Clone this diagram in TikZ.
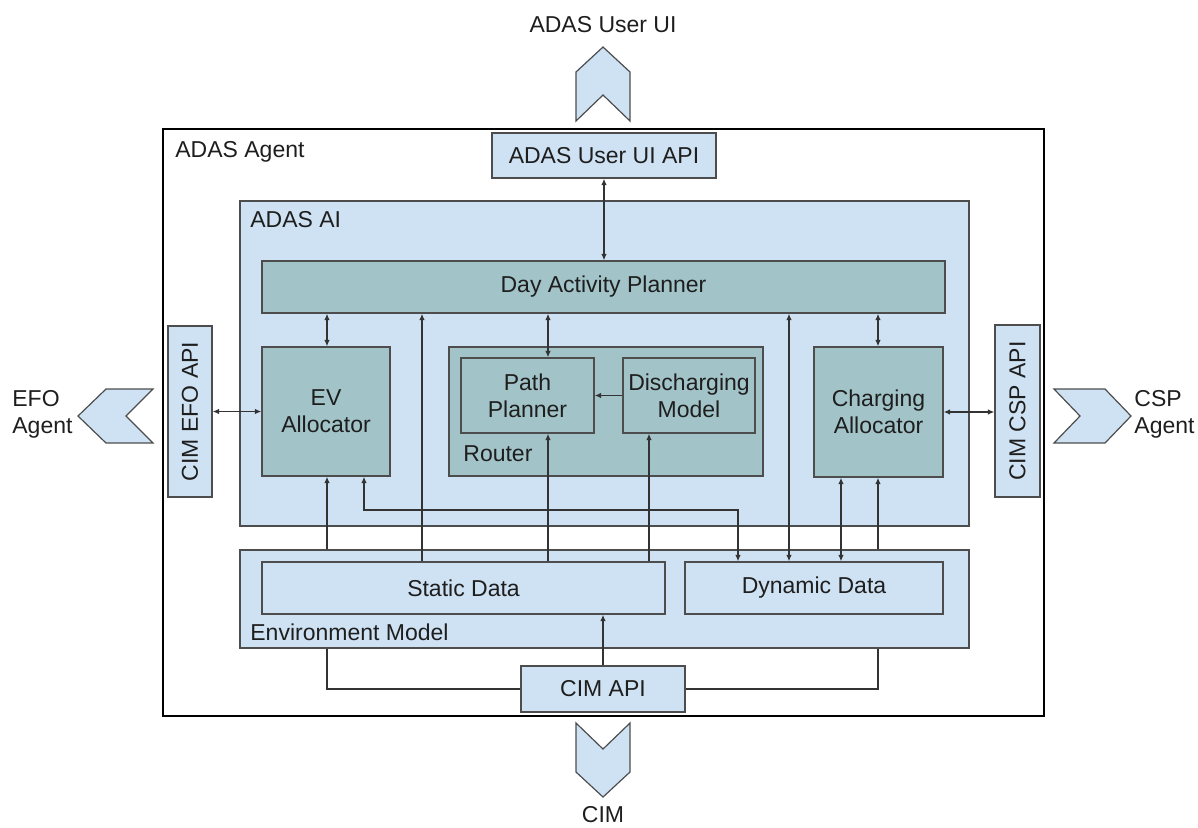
\documentclass[tikz,border=0pt]{standalone}
\usepackage{fontspec}
\setmainfont{Liberation Sans}
\usetikzlibrary{fit,arrows.meta}

\definecolor{paleblue}{HTML}{CFE2F3}
\definecolor{modfill}{HTML}{A2C4C9}
\definecolor{edgegray}{HTML}{4D4D4D}
\definecolor{wire}{HTML}{333333}
\definecolor{ink}{HTML}{1E1E1E}

\tikzset{
  outerframe/.style={draw=black, line width=1.4pt, inner sep=0pt},
  lightbox/.style={draw=edgegray, fill=paleblue, line width=0.7pt, inner sep=0pt, align=center, text=ink},
  darkbox/.style={lightbox, fill=modfill},
  sized/.style 2 args={minimum width=#1, minimum height=#2},
  lbl/.style={text=ink, inner sep=0pt},
  chev/.style={draw=edgegray, fill=paleblue, line width=0.6pt, line join=miter},
  link/.style={draw=wire, line width=0.6pt},
  oneway/.style={link, -{Latex[length=3.2pt,width=2.8pt]}},
  twoway/.style={link, {Latex[length=3.2pt,width=2.8pt]}-{Latex[length=3.2pt,width=2.8pt]}}
}

\begin{document}
\begin{tikzpicture}[x=0.5pt, y=-0.5pt, font=\fontsize{11.5}{13.4}\selectfont]
\useasboundingbox (0,0) rectangle (1198,827);

% ---- agent frame and external interfaces
\node[outerframe, fit={(163,129)(1044,716)}] (agent) {};
\node[lbl, anchor=west] (agentlbl) at (175,152) {ADAS Agent};

\node[lbl] (uiext) at (603,25) {ADAS User UI};
\draw[chev] (603,47) -- (630,72) -- (630,121) -- (603,95) -- (576,121) -- (576,72) -- cycle;

\node[lbl] (cimext) at (603,815) {CIM};
\draw[chev] (576,723) -- (603,749) -- (630,723) -- (630,772) -- (603,797) -- (576,772) -- cycle;

\node[lbl, anchor=west, align=left] (efoext) at (12,414) {EFO\\Agent};
\draw[chev] (78,416) -- (106,389) -- (153,389) -- (126,416) -- (153,443) -- (106,443) -- cycle;

\node[lbl, anchor=west, align=left] (cspext) at (1134,414) {CSP\\Agent};
\draw[chev] (1054,389) -- (1105,389) -- (1131,416) -- (1105,443) -- (1054,443) -- (1080,416) -- cycle;

% ---- API boxes
\node[lightbox, sized={112pt}{22.5pt}] (uiapi) at (604,155.5) {ADAS User UI API};
\node[lightbox, fit={(168,326)(212,497)}] (efo) {};
\node[lbl, rotate=90] (efolbl) at (efo.center) {CIM EFO API};
\node[lightbox, fit={(995,325)(1040,497)}] (csp) {};
\node[lbl, rotate=90] (csplbl) at (csp.center) {CIM CSP API};
\node[lightbox, sized={82pt}{23pt}] (cim) at (603,689) {CIM API};

% ---- ADAS AI
\node[lightbox, fit={(240,201)(969,526)}] (ai) {};
\node[lbl, anchor=west] (ailbl) at (250,220) {ADAS AI};
\node[darkbox, sized={341.5pt}{26pt}] (dap) at (603.5,287) {Day Activity Planner};
\node[darkbox, sized={64pt}{64.5pt}] (ev) at (326,411.5) {EV\\Allocator};
\node[darkbox, fit={(449,347)(763,476)}] (router) {};
\node[lbl, anchor=west] (routerlbl) at (463,454) {Router};
\node[darkbox, sized={66.5pt}{37.5pt}] (pp) at (527.5,395.5) {Path\\Planner};
\node[darkbox, sized={66pt}{37.5pt}] (dm) at (689,395.5) {Discharging\\Model};
\node[darkbox, sized={64.5pt}{65pt}] (ca) at (878.5,412) {Charging\\Allocator};

% ---- environment model
\node[lightbox, fit={(240,550)(969,648)}] (envm) {};
\node[lbl, anchor=west] (envlbl) at (250,632) {Environment Model};
\node[lightbox, sized={201.5pt}{26pt}] (static) at (463.5,588) {Static Data};
\node[lightbox, sized={129pt}{26pt}] (dyn) at (814,588) {Dynamic Data};

% ---- connector columns and rows
\coordinate (kEV) at (327,0);
\coordinate (kEVb) at (364,0);
\coordinate (kST) at (422,0);
\coordinate (kPP) at (548,0);
\coordinate (kDM) at (649,0);
\coordinate (kDYn) at (738,0);
\coordinate (kDY) at (789,0);
\coordinate (kCA) at (841,0);
\coordinate (kCAr) at (878,0);
\coordinate (rBend) at (0,510);

% ---- connectors
\draw[twoway] (uiapi.south) -- (dap.north -| uiapi.south);
\draw[twoway] (dap.south -| kEV) -- (ev.north -| kEV);
\draw[oneway] (static.north -| kST) -- (dap.south -| kST);
\draw[twoway] (dap.south -| kPP) -- (pp.north -| kPP);
\draw[twoway] (dap.south -| kDY) -- (dyn.north -| kDY);
\draw[twoway] (dap.south -| kCAr) -- (ca.north -| kCAr);
\draw[oneway] (dm.west) -- (pp.east);
\draw[oneway] (static.north -| kPP) -- (pp.south -| kPP);
\draw[oneway] (static.north -| kDM) -- (dm.south -| kDM);
\draw[oneway] (envm.north -| kEV) -- (ev.south -| kEV);
\draw[twoway] (ev.south -| kEVb) -- (kEVb |- rBend) -- (kDYn |- rBend) -- (dyn.north -| kDYn);
\draw[twoway] (ca.south -| kCA) -- (dyn.north -| kCA);
\draw[oneway] (envm.north -| kCAr) -- (ca.south -| kCAr);
\draw[twoway] (efo.east) -- (ev.west |- efo.east);
\draw[twoway] (ca.east) -- (csp.west |- ca.east);
\draw[oneway] (cim.north) -- (static.south -| cim.north);
\draw[link] (cim.west) -| (envm.south -| kEV);
\draw[link] (cim.east) -| (envm.south -| kCAr);
\end{tikzpicture}
\end{document}
